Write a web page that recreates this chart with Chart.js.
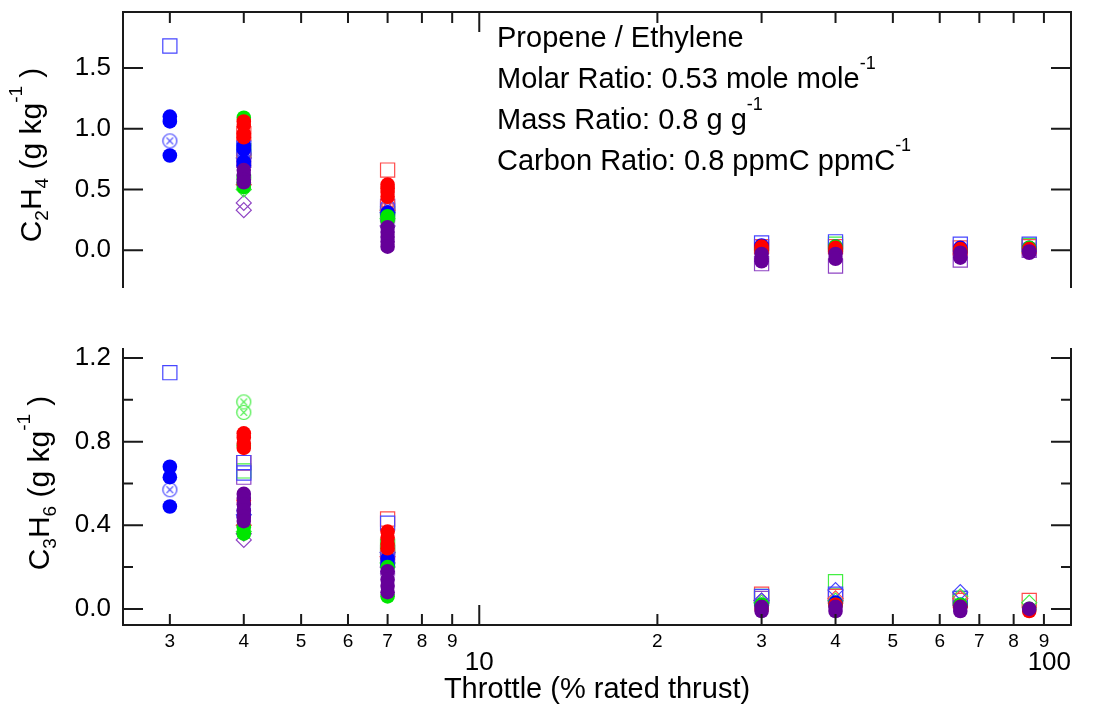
<!DOCTYPE html>
<html>
<head>
<meta charset="utf-8">
<script src="https://cdn.jsdelivr.net/npm/chart.js@4.4.1/dist/chart.umd.min.js"></script>
<style>
html, body { margin: 0; padding: 0; background: #fff; }
#wrap { position: relative; width: 1098px; height: 711px; }
#top { position: absolute; left: 0; top: 0; }
#bot { position: absolute; left: 0; top: 300px; }
</style>
</head>
<body>
<div id="wrap">
  <canvas id="top" width="1098" height="300"></canvas>
  <canvas id="bot" width="1098" height="411"></canvas>
</div>
<script>
// axis ticks
const throttleTicks = [3, 4, 5, 6, 7, 8, 9, 10, 20, 30, 40, 50, 60, 70, 80, 90, 100];
const c2h4Ticks = [0, 0.5, 1.0, 1.5];
const c3h6Ticks = [0, 0.4, 0.8, 1.2];
const c3h6Minor = [0.2, 0.6, 1.0];

// C2H4 emission index, [throttle %, g/kg]
const c2h4PurpleDot = [[4,0.66],[4,0.62],[4,0.58],[4,0.56],[7,0.19],[7,0.15],[7,0.11],[7,0.07],[7,0.03],[30,-0.03],[30,-0.07],[30,-0.09],[40,-0.03],[40,-0.07],[65,-0.02],[65,-0.06],[85,-0.01],[85,-0.02]];
const c2h4RedDot = [[4,1.06],[4,1.03],[4,0.96],[4,0.93],[7,0.54],[7,0.51],[7,0.48],[7,0.44],[30,0.03],[30,0.0],[40,0.02],[40,-0.01],[65,0.01],[65,-0.01],[85,0.01]];
const c2h4GreenDot = [[4,1.09],[4,0.55],[4,0.52],[7,0.28],[7,0.25],[30,0.01],[40,0.03],[65,0.0],[85,0.02]];
const c2h4BlueDot = [[3,1.10],[3,1.06],[3,0.78],[4,0.86],[4,0.83],[4,0.73],[4,0.70],[7,0.31],[7,0.29],[30,0.04],[30,0.02],[40,0.03],[40,0.0],[65,0.02],[85,0.02]];
const c2h4BlueCx = [[3,0.90],[4,0.80],[7,0.36]];
const c2h4RedCx = [[4,0.78],[7,0.40],[7,0.34]];
const c2h4GreenCx = [[4,0.60],[7,0.30]];
const c2h4PurpleCx = [[7,0.24]];
const c2h4BlueDia = [[4,0.76],[7,0.31]];
const c2h4RedDia = [[4,0.54],[7,0.33]];
const c2h4GreenDia = [[4,0.50],[7,0.26]];
const c2h4PurpleDia = [[4,0.39],[4,0.33],[7,0.20]];
const c2h4BlueSq = [[3,1.68],[4,0.84],[7,0.36],[30,0.06],[40,0.07],[65,0.05],[85,0.05]];
const c2h4RedSq = [[4,0.96],[7,0.66],[30,0.03],[40,0.03],[65,0.02],[85,0.03]];
const c2h4GreenSq = [[4,0.82],[7,0.30],[40,0.05],[85,0.04]];
const c2h4PurpleSq = [[4,0.74],[7,0.33],[30,-0.11],[40,-0.13],[65,-0.08],[85,0.0]];

// C3H6 emission index, [throttle %, g/kg]
const c3h6PurpleDot = [[4,0.55],[4,0.53],[4,0.50],[4,0.47],[4,0.44],[4,0.42],[7,0.18],[7,0.14],[7,0.11],[7,0.08],[30,0.01],[30,-0.01],[40,0.01],[40,-0.01],[65,0.01],[65,-0.01],[85,0.0]];
const c3h6RedDot = [[4,0.84],[4,0.82],[4,0.79],[4,0.77],[4,0.52],[7,0.37],[7,0.34],[7,0.31],[7,0.29],[30,0.0],[40,0.02],[65,0.01],[85,-0.01]];
const c3h6GreenDot = [[4,0.78],[4,0.39],[4,0.36],[7,0.20],[7,0.06],[30,0.02],[40,0.02],[65,0.02],[85,0.0]];
const c3h6BlueDot = [[3,0.68],[3,0.63],[3,0.49],[4,0.47],[4,0.44],[7,0.24],[7,0.21],[30,0.02],[40,0.03],[65,0.02]];
const c3h6BlueCx = [[3,0.57],[7,0.26],[7,0.22]];
const c3h6RedCx = [[7,0.27],[7,0.23]];
const c3h6GreenCx = [[4,0.99],[4,0.94],[7,0.21]];
const c3h6PurpleCx = [[7,0.17]];
const c3h6BlueDia = [[4,0.45],[7,0.27],[30,0.04],[40,0.09],[65,0.08]];
const c3h6RedDia = [[4,0.40],[7,0.25],[30,0.04],[40,0.05],[65,0.05]];
const c3h6GreenDia = [[4,0.37],[7,0.22],[30,0.03],[40,0.04],[65,0.06],[85,0.03]];
const c3h6PurpleDia = [[4,0.36],[4,0.33],[7,0.20]];
const c3h6BlueSq = [[3,1.13],[4,0.70],[4,0.65],[7,0.41],[30,0.06],[40,0.07],[65,0.05]];
const c3h6RedSq = [[4,0.70],[7,0.43],[30,0.07],[40,0.06],[65,0.04],[85,0.04]];
const c3h6GreenSq = [[4,0.66],[7,0.30],[30,0.06],[40,0.13],[65,0.05]];
const c3h6PurpleSq = [[4,0.63],[7,0.27],[30,0.05],[40,0.06]];

const FONT = '"Liberation Sans", Arial, sans-serif';
const INK = '#1a1a1a';
const solid = { blue: '#0000ff', red: '#ff0000', green: '#00e600', purple: '#660099' };
const light = { blue: '#4646ff', red: '#ff4a4a', green: '#44ee44', purple: '#8f44c4' };

// circle with an x inside, used as a point image
function circleX(color) {
  const c = document.createElement('canvas');
  c.width = 17; c.height = 17;
  const g = c.getContext('2d');
  g.strokeStyle = color;
  g.lineWidth = 1.2;
  g.beginPath(); g.arc(8.5, 8.5, 7, 0, Math.PI * 2); g.stroke();
  g.beginPath();
  g.moveTo(5.2, 5.2); g.lineTo(11.8, 11.8);
  g.moveTo(11.8, 5.2); g.lineTo(5.2, 11.8);
  g.stroke();
  return c;
}

function pts(arr) { return arr.map(p => ({ x: p[0], y: p[1] })); }

function dot(arr, col) {
  return { data: pts(arr), pointStyle: 'circle', pointRadius: 7.3, backgroundColor: solid[col], borderColor: solid[col], borderWidth: 0 };
}
function sq(arr, col) {
  return { data: pts(arr), pointStyle: 'rect', pointRadius: 10, backgroundColor: 'rgba(0,0,0,0)', borderColor: light[col], borderWidth: 1.2 };
}
function dia(arr, col) {
  return { data: pts(arr), pointStyle: 'rectRot', pointRadius: 7.5, backgroundColor: 'rgba(0,0,0,0)', borderColor: light[col], borderWidth: 1.2 };
}
function cx(arr, col) {
  return { data: pts(arr), pointStyle: circleX(light[col]), pointRadius: 8, backgroundColor: 'rgba(0,0,0,0)', borderColor: light[col] };
}

// draws text with sub/superscript pieces
function richWidth(ctx, parts, size) {
  let w = 0;
  parts.forEach(([t, k]) => {
    ctx.font = (k === 'n' ? size : Math.round(size * 0.62)) + 'px ' + FONT;
    w += ctx.measureText(t).width;
  });
  return w;
}
function drawRich(ctx, parts, x, y, size) {
  let px = x;
  parts.forEach(([t, k]) => {
    const s = k === 'n' ? size : Math.round(size * 0.62);
    const dy = k === 'sup' ? -size * 0.64 : k === 'sub' ? size * 0.24 : 0;
    ctx.font = s + 'px ' + FONT;
    ctx.fillText(t, px, y + dy);
    px += ctx.measureText(t).width;
  });
}

function framePlugin(panel) {
  return {
    id: 'frame_' + panel.name,
    afterDraw(chart) {
      const ctx = chart.ctx;
      const { left, right, top, bottom } = chart.chartArea;
      const xs = chart.scales.x, ys = chart.scales.y;
      ctx.save();
      ctx.strokeStyle = INK;
      ctx.lineWidth = 2;
      ctx.beginPath();
      ctx.moveTo(left, top); ctx.lineTo(left, bottom);
      ctx.moveTo(right, top); ctx.lineTo(right, bottom);
      const edge = panel.xEdge === 'top' ? top : bottom;
      const dir = panel.xEdge === 'top' ? 1 : -1;
      ctx.moveTo(left - 1, edge); ctx.lineTo(right + 1, edge);
      throttleTicks.forEach(v => {
        const px = xs.getPixelForValue(v);
        const len = (v === 10 || v === 100) ? 20 : 11;
        ctx.moveTo(px, edge); ctx.lineTo(px, edge + dir * len);
      });
      panel.yMajor.forEach(v => {
        const py = ys.getPixelForValue(v);
        ctx.moveTo(left, py); ctx.lineTo(left + 20, py);
        ctx.moveTo(right, py); ctx.lineTo(right - 20, py);
      });
      panel.yMinor.forEach(v => {
        const py = ys.getPixelForValue(v);
        ctx.moveTo(left, py); ctx.lineTo(left + 10, py);
        ctx.moveTo(right, py); ctx.lineTo(right - 10, py);
      });
      ctx.stroke();

      // rotated y title
      ctx.fillStyle = '#000';
      ctx.textBaseline = 'alphabetic';
      ctx.textAlign = 'left';
      const w = richWidth(ctx, panel.title, 30);
      ctx.translate(panel.titleX, panel.titleY);
      ctx.rotate(-Math.PI / 2);
      drawRich(ctx, panel.title, -w / 2, 0, 30);
      ctx.restore();

      if (panel.notes) {
        ctx.save();
        ctx.fillStyle = '#000';
        ctx.textBaseline = 'alphabetic';
        ctx.textAlign = 'left';
        panel.notes.forEach((line, i) => drawRich(ctx, line, 497, 47 + i * 41, 29));
        ctx.restore();
      }
    }
  };
}

function yScale(lo, hi, ticks, digits) {
  return {
    min: lo, max: hi,
    afterBuildTicks(s) { s.ticks = ticks.map(v => ({ value: v })); },
    afterFit(s) { s.width = 123; s.paddingTop = 0; s.paddingBottom = 0; },
    ticks: { font: { family: FONT, size: 26 }, color: '#000', padding: 12, callback: v => Number(v).toFixed(digits) },
    grid: { display: false, drawTicks: false },
    border: { display: false }
  };
}

const base = {
  responsive: false,
  animation: false,
  events: [],
  plugins: { legend: { display: false }, tooltip: { enabled: false } }
};

new Chart(document.getElementById('top'), {
  type: 'scatter',
  data: {
    datasets: [
      dot(c2h4PurpleDot, 'purple'), dot(c2h4RedDot, 'red'), dot(c2h4GreenDot, 'green'), dot(c2h4BlueDot, 'blue'),
      cx(c2h4BlueCx, 'blue'), cx(c2h4RedCx, 'red'), cx(c2h4GreenCx, 'green'), cx(c2h4PurpleCx, 'purple'),
      dia(c2h4BlueDia, 'blue'), dia(c2h4RedDia, 'red'), dia(c2h4GreenDia, 'green'), dia(c2h4PurpleDia, 'purple'),
      sq(c2h4BlueSq, 'blue'), sq(c2h4RedSq, 'red'), sq(c2h4GreenSq, 'green'), sq(c2h4PurpleSq, 'purple')
    ]
  },
  options: Object.assign({}, base, {
    layout: { padding: { left: 0, right: 27, top: 12, bottom: 12 } },
    scales: {
      x: {
        type: 'logarithmic', position: 'top', min: 2.5, max: 100,
        ticks: { display: false }, grid: { display: false, drawTicks: false }, border: { display: false },
        afterFit(s) { s.height = 0; s.paddingLeft = 0; s.paddingRight = 0; }
      },
      y: yScale(-0.31, 1.96, c2h4Ticks, 1)
    }
  }),
  plugins: [framePlugin({
    name: 'c2h4', xEdge: 'top', yMajor: c2h4Ticks, yMinor: [],
    titleX: 41, titleY: 155,
    title: [['C', 'n'], ['2', 'sub'], ['H', 'n'], ['4', 'sub'], [' (g kg', 'n'], ['-1', 'sup'], [' )', 'n']],
    notes: [
      [['Propene / Ethylene', 'n']],
      [['Molar Ratio: 0.53 mole mole', 'n'], ['-1', 'sup']],
      [['Mass Ratio: 0.8 g g', 'n'], ['-1', 'sup']],
      [['Carbon Ratio: 0.8 ppmC ppmC', 'n'], ['-1', 'sup']]
    ]
  })]
});

new Chart(document.getElementById('bot'), {
  type: 'scatter',
  data: {
    datasets: [
      dot(c3h6PurpleDot, 'purple'), dot(c3h6RedDot, 'red'), dot(c3h6GreenDot, 'green'), dot(c3h6BlueDot, 'blue'),
      cx(c3h6BlueCx, 'blue'), cx(c3h6RedCx, 'red'), cx(c3h6GreenCx, 'green'), cx(c3h6PurpleCx, 'purple'),
      dia(c3h6BlueDia, 'blue'), dia(c3h6RedDia, 'red'), dia(c3h6GreenDia, 'green'), dia(c3h6PurpleDia, 'purple'),
      sq(c3h6BlueSq, 'blue'), sq(c3h6RedSq, 'red'), sq(c3h6GreenSq, 'green'), sq(c3h6PurpleSq, 'purple')
    ]
  },
  options: Object.assign({}, base, {
    layout: { padding: { left: 0, right: 27, top: 48, bottom: 0 } },
    scales: {
      x: {
        type: 'logarithmic', position: 'bottom', min: 2.5, max: 100,
        afterBuildTicks(s) { s.ticks = throttleTicks.map(v => ({ value: v, major: v === 10 || v === 100 })); },
        afterFit(s) { s.height = 86; s.paddingLeft = 0; s.paddingRight = 0; },
        ticks: {
          autoSkip: false, maxRotation: 0, minRotation: 0, padding: 5, color: '#000',
          font: c => (c.tick && (c.tick.value === 10 || c.tick.value === 100))
            ? { family: FONT, size: 26, lineHeight: 0.85 }
            : { family: FONT, size: 19 },
          // the 100 label sits inside the frame, so pad it on the right
          callback: v => v === 10 ? ['', '10'] : v === 100 ? ['', '100      '] : v > 10 ? String(v / 10) : String(v)
        },
        grid: { display: false, drawTicks: false },
        border: { display: false },
        title: { display: true, text: 'Throttle (% rated thrust)', color: '#000', font: { family: FONT, size: 29 }, padding: { top: 0, bottom: 4 } }
      },
      y: yScale(-0.077, 1.248, c3h6Ticks, 1)
    }
  }),
  plugins: [framePlugin({
    name: 'c3h6', xEdge: 'bottom', yMajor: c3h6Ticks, yMinor: c3h6Minor,
    titleX: 49, titleY: 183,
    title: [['C', 'n'], ['3', 'sub'], ['H', 'n'], ['6', 'sub'], [' (g kg', 'n'], ['-1', 'sup'], [' )', 'n']]
  })]
});
</script>
</body>
</html>
